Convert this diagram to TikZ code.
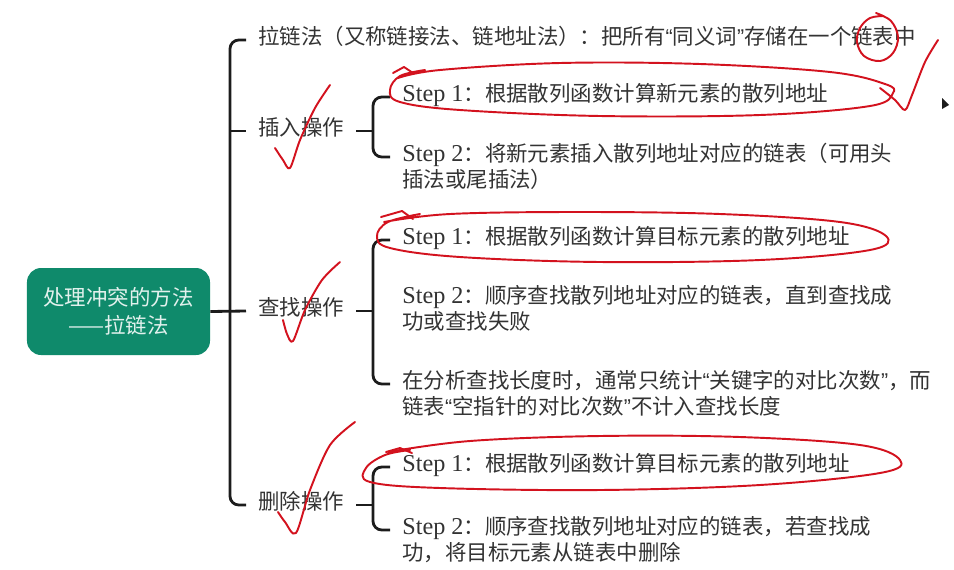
\documentclass[tikz,border=0pt]{standalone}
\usepackage{fontspec}
\setmainfont{Noto Sans CJK SC}
\newfontfamily\stepfont{Liberation Serif}[Scale=1.13]
\newfontfamily\quotefont{Liberation Sans}
\usetikzlibrary{positioning}
\definecolor{chainGreen}{HTML}{0F8A6B}
\definecolor{chainInk}{HTML}{1C1C1C}
\definecolor{chainText}{HTML}{333333}
\definecolor{chainPen}{HTML}{D3121E}
\newcommand{\stp}[1]{{\stepfont Step #1}}
\newcommand{\cnq}[1]{{\quotefont “}#1{\quotefont ”}}

\begin{document}
\begin{tikzpicture}[x=0.2mm,y=-0.2mm,
  line/.style={draw=chainInk,line width=1.6pt,rounded corners=5pt},
  lbl/.style={anchor=mid west,inner xsep=2.4mm,inner ysep=1pt,text=chainText,font=\fontsize{12.2}{14.8}\selectfont,align=left},
  pen/.style={draw=chainPen,line width=1.1pt,line cap=round,line join=round}]
\useasboundingbox (0,0) rectangle (954,569);

\node[fill=chainGreen,rounded corners=8pt,minimum width=36.6mm,minimum height=17.4mm,align=center,text=white!88!chainGreen,font=\fontsize{12.2}{15.8}\selectfont] (root) at (118.5,311.5) {处理冲突的方法\\——拉链法};

% branches
\node[lbl] (b0) at (246,40) {拉链法（又称链接法、链地址法）：把所有\cnq{同义词}存储在一个链表中};
\foreach \i/\y/\txt in {1/131/插入操作,2/311/查找操作,3/505/删除操作}{
  \node[lbl] (b\i) at (246,\y) {\txt};
}

% steps (two-line nodes sit on their last line)
\node[lbl] (i1) at (390,97) {\stp1：根据散列函数计算新元素的散列地址};
\node[lbl] (i2) at (390,183) {\stp2：将新元素插入散列地址对应的链表（可用头\\插法或尾插法）};
\node[lbl] (f1) at (390,240) {\stp1：根据散列函数计算目标元素的散列地址};
\node[lbl] (f2) at (390,325) {\stp2：顺序查找散列地址对应的链表，直到查找成\\功或查找失败};
\node[lbl] (f3) at (390,410) {在分析查找长度时，通常只统计\cnq{关键字的对比次数}，而\\链表\cnq{空指针的对比次数}不计入查找长度};
\node[lbl] (d1) at (390,467) {\stp1：根据散列函数计算目标元素的散列地址};
\node[lbl] (d2) at (390,556) {\stp2：顺序查找散列地址对应的链表，若查找成\\功，将目标元素从链表中删除};
\foreach \n in {i2,f3,d2}{
  \coordinate (\n a) at ([yshift=14.8pt]\n.mid west);
}

% trunk and brackets
\coordinate (t) at (230,311);
\coordinate (kx) at (373,0);
\draw[line] (b0.mid west) -| (t) |- (b3.mid west);
\draw[line] (t |- b1.mid west) -- (b1.mid west);
\draw[line] (root.east) -- (b2.mid west);
\foreach \b/\p/\q in {b1/i1/i2a,b2/f1/f3a,b3/d1/d2a}{
  \draw[line] (\b.mid east) -- (kx |- \b.mid east);
  \draw[line] (\p.mid west) -| (kx |- \b.mid east) |- (\q);
}

% red pen marks
\draw[pen] plot[smooth,tension=.6] coordinates {(398,78)(440,70)(560,63)(700,64)(830,72)(885,84)(893,93)(870,106)(760,115)(600,116)(460,110)(400,102)(390,90)(400,76)(425,70)};
\draw[pen] (393,73) -- (404,67) -- (413,73);
\draw[pen] plot[smooth,tension=.6] coordinates {(384,222)(450,214)(580,212)(720,214)(840,222)(886,236)(870,250)(760,260)(600,262)(460,257)(390,248)(377,236)(388,222)(420,214)};
\draw[pen] (381,217) -- (402,211) -- (413,219);
\draw[pen] plot[smooth,tension=.6] coordinates {(388,452)(470,441)(600,436)(740,437)(860,445)(900,460)(880,473)(760,485)(600,490)(440,488)(370,482)(366,468)(385,455)(410,450)};
\draw[pen] (386,452) -- (400,448) -- (412,453);
\draw[pen] plot[smooth,tension=.6] coordinates {(884,16)(870,18)(860,28)(857,42)(864,56)(880,61)(893,53)(898,37)(891,21)(876,13)};
\draw[pen] plot[smooth] coordinates {(880,88)(895,100)(905,110)(912,95)(925,62)(938,40)};
\draw[pen] plot[smooth] coordinates {(275,148)(283,160)(290,168)(300,140)(315,108)(330,85)};
\draw[pen] plot[smooth] coordinates {(283,320)(287,334)(293,341)(305,310)(322,280)(340,262)};
\draw[pen] plot[smooth] coordinates {(278,512)(285,522)(296,533)(310,490)(330,445)(355,422)};
\fill[chainInk] (942,98) -- (942,109) -- (949,105) -- cycle;
\end{tikzpicture}
\end{document}
